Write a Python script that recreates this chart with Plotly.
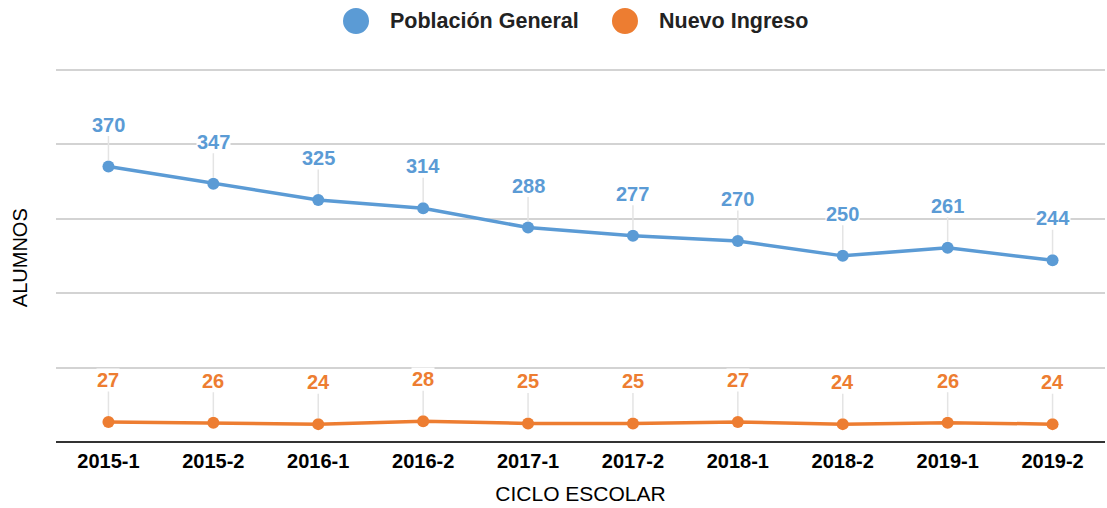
import plotly.graph_objects as go

ciclos = ["2015-1", "2015-2", "2016-1", "2016-2", "2017-1",
          "2017-2", "2018-1", "2018-2", "2019-1", "2019-2"]
poblacion_general = [370, 347, 325, 314, 288, 277, 270, 250, 261, 244]
nuevo_ingreso = [27, 26, 24, 28, 25, 25, 27, 24, 26, 24]

AZUL = "#5b9bd5"
NARANJA = "#ed7d31"
FUENTE = "Liberation Sans, Arial, sans-serif"

fig = go.Figure()

series = [("Población General", poblacion_general, AZUL),
          ("Nuevo Ingreso", nuevo_ingreso, NARANJA)]

for nombre, valores, color in series:
    fig.add_trace(go.Scatter(
        x=ciclos, y=valores, mode="lines+markers", name=nombre,
        line=dict(color=color, width=3.5),
        marker=dict(color=color, size=12),
        showlegend=False,
    ))

# value labels above each point with a thin leader line
for nombre, valores, color in series:
    for c, v in zip(ciclos, valores):
        fig.add_annotation(
            x=c, y=v, text=f"<b>{v}</b>",
            showarrow=True, ax=0, ay=-42,
            arrowhead=0, arrowwidth=1.5, arrowcolor="#e4e4e4",
            standoff=6,
            font=dict(family=FUENTE, size=20, color=color),
            bgcolor="white", borderpad=0,
        )

# legend row at the top: large dot + bold series name
leyenda_x = [0.286, 0.5424]  # dot centres in paper units
leyenda_y = 1.1197
for (nombre, valores, color), lx in zip(series, leyenda_x):
    fig.add_shape(
        type="circle", xref="paper", yref="paper",
        xsizemode="pixel", ysizemode="pixel",
        xanchor=lx, yanchor=leyenda_y,
        x0=-13, x1=13, y0=-13, y1=13,
        fillcolor=color, line=dict(width=0),
    )
    fig.add_annotation(
        x=lx, y=leyenda_y, xref="paper", yref="paper",
        xshift=32, xanchor="left", yanchor="middle",
        text=f"<b>{nombre}</b>", showarrow=False,
        font=dict(family=FUENTE, size=21.5, color="#222222"),
    )

# vertical axis title
fig.add_annotation(
    x=-0.0343, y=0.489, xref="paper", yref="paper",
    text="ALUMNOS", textangle=-90, showarrow=False,
    xanchor="center", yanchor="middle",
    font=dict(family=FUENTE, size=20, color="#000000"),
)

fig.update_layout(
    width=1107, height=508,
    margin=dict(l=56, r=2, t=66, b=66),
    plot_bgcolor="white", paper_bgcolor="white",
    font=dict(family=FUENTE, color="#000000"),
    showlegend=False,
    xaxis=dict(
        type="category", range=[-0.5, 9.5],
        showgrid=False, ticks="",
        tickfont=dict(family=FUENTE, size=20, color="#000000", weight="bold"),
        ticklabelstandoff=5,
        title=dict(text="CICLO ESCOLAR", font=dict(size=21, family=FUENTE), standoff=15),
        showline=False, zeroline=False,
    ),
    yaxis=dict(
        range=[0, 505], dtick=100,
        showticklabels=False, ticks="",
        showgrid=True, gridcolor="#d3d3d3", gridwidth=2,
        zeroline=True, zerolinecolor="#333333", zerolinewidth=2,
    ),
)

fig.write_html("out.html")
